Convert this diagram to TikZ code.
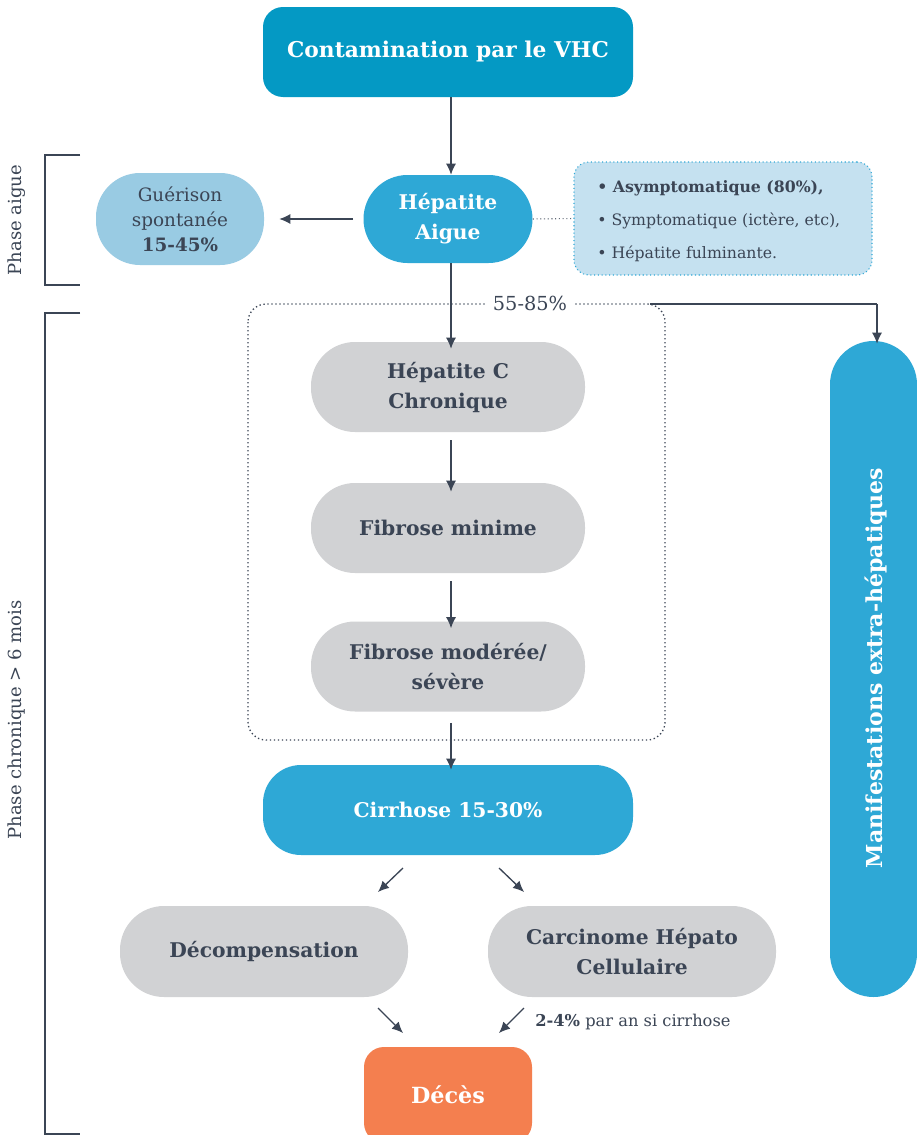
\documentclass[tikz,border=0pt]{standalone}
\usepackage{fontspec}
\setmainfont{DejaVu Serif}
\usetikzlibrary{arrows.meta}
\definecolor{txt}{HTML}{3B4555}
\definecolor{cTop}{HTML}{0499C4}
\definecolor{cBlue}{HTML}{2EA8D6}
\definecolor{cLight}{HTML}{99CBE3}
\definecolor{cInfo}{HTML}{C5E1F0}
\definecolor{cGray}{HTML}{D1D2D4}
\definecolor{cOrange}{HTML}{F47F4F}
\newcommand\pxu[1]{#1*0.75pt}
\begin{document}
\begin{tikzpicture}[x=0.75pt,y=-0.75pt,
  box/.style={align=center, inner sep=0pt, text=txt},
  pill/.style={box, rounded corners=\pxu{44}, minimum height=\pxu{90}},
  bigfont/.style={font=\bfseries\fontsize{16.3}{20}\selectfont},
  midfont/.style={font=\bfseries\fontsize{15.2}{22.5}\selectfont},
  arr/.style={draw=txt, line width=1pt, -{Latex[length=\pxu{11},width=\pxu{10}]}},
  brk/.style={draw=txt, line width=2.2pt},
  sidelbl/.style={text=txt, rotate=90, font=\fontsize{13.5}{15}\selectfont},
]
\clip (0,0) rectangle (917,1135);
\fill[white] (0,0) rectangle (917,1135);

% brackets
\draw[brk] (80,155) -- (45,155) -- (45,285) -- (80,285);
\node[sidelbl] (lblA) at (17,220) {Phase aigue};
\draw[brk] (80,313) -- (45,313) -- (45,1134) -- (80,1134);
\node[sidelbl] (lblC) at (17,720) {Phase chronique > 6 mois};

% dotted box
\draw[txt, dotted, line width=1pt, rounded corners=\pxu{18}] (248,304) rectangle (665,740);
\node[text=txt, fill=white, inner xsep=5pt, inner ysep=1pt, font=\fontsize{14.5}{16}\selectfont] (pct) at (530,303) {55-85\%};
\coordinate (dbr) at (650,304);

% nodes
\node[box, fill=cTop, text=white, bigfont, rounded corners=\pxu{20}, minimum width=\pxu{370}, minimum height=\pxu{90}] (vhc) at (448,52) {Contamination par le VHC};
\node[pill, fill=cBlue, text=white, midfont, minimum width=\pxu{169}, minimum height=\pxu{88}] (ha) at (448,219) {Hépatite\\Aigue};
\node[pill, fill=cLight, font=\fontsize{13.8}{18.75}\selectfont, minimum width=\pxu{168}, minimum height=\pxu{92}] (gs) at (180,219) {Guérison\\spontanée\\\textbf{15-45\%}};
\node[box, fill=cInfo, draw=cBlue, dotted, line width=0.8pt, rounded corners=\pxu{15}, minimum width=\pxu{298}, minimum height=\pxu{113}] (info) at (723,218.5) {};
\node[text=txt, anchor=west, align=left, inner sep=0pt, font=\fontsize{11.8}{24.75}\selectfont] (infot) at (597,221) {\textbf{• Asymptomatique (80\%),}\\• Symptomatique (ictère, etc),\\• Hépatite fulminante.};

\node[pill, fill=cGray, midfont, minimum width=\pxu{274}] (hcc) at (448,387) {Hépatite C\\Chronique};
\node[pill, fill=cGray, midfont, minimum width=\pxu{274}] (fmin) at (448,528) {Fibrose minime};
\node[pill, fill=cGray, midfont, minimum width=\pxu{274}] (fmod) at (448,666.5) {Fibrose modérée/\\sévère};
\node[box, fill=cBlue, text=white, midfont, rounded corners=\pxu{38}, minimum width=\pxu{370}, minimum height=\pxu{90}] (cir) at (448,810) {Cirrhose 15-30\%};
\node[pill, fill=cGray, midfont, minimum width=\pxu{288}, minimum height=\pxu{91}] (dec) at (264,951.5) {Décompensation};
\node[pill, fill=cGray, midfont, minimum width=\pxu{288}, minimum height=\pxu{91}] (chc) at (632,951.5) {Carcinome Hépato\\Cellulaire};
\node[box, fill=cOrange, text=white, font=\bfseries\fontsize{16.7}{20}\selectfont, rounded corners=\pxu{20}, minimum width=\pxu{168}, minimum height=\pxu{96}] (deces) at (448,1095) {Décès};
\node[box, fill=cBlue, rounded corners=\pxu{43.5}, minimum width=\pxu{87}, minimum height=\pxu{656}] (mani) at (873.5,669) {};
\node[text=white, rotate=90, font=\bfseries\fontsize{16.5}{20}\selectfont, inner sep=0pt] (manit) at (876,668) {Manifestations extra-hépatiques};

\node[text=txt, anchor=west, inner sep=0pt, font=\fontsize{12.2}{14}\selectfont] (pan) at (535,1022) {\textbf{2-4\%} par an si cirrhose};

% connectors
\coordinate (axis) at (451,0);
\draw[arr] (vhc.south -| axis) -- (ha.north -| axis);
\draw[arr] ([xshift=\pxu{-10}]ha.west) -- ([xshift=\pxu{15}]gs.east);
\draw[txt!80, dotted, line width=0.8pt] (ha.east) -- (info.west);
\draw[arr] (ha.south -| axis) -- ([yshift=\pxu{-7}]hcc.north -| axis);
\draw[arr] ([yshift=\pxu{-8}]hcc.south -| axis) -- ([yshift=\pxu{-9}]fmin.north -| axis);
\draw[arr] ([yshift=\pxu{-8}]fmin.south -| axis) -- ([yshift=\pxu{-7}]fmod.north -| axis);
\draw[arr] ([yshift=\pxu{-11}]fmod.south -| axis) -- ([yshift=\pxu{-5}]cir.north -| axis);
\draw[txt, line width=1pt] (dbr) -- (877,304);
\draw[arr] (877,304) -- ([yshift=\pxu{-3}]mani.north -| 877,0);

\coordinate (c1s) at (403,868); \coordinate (c1e) at (378,892);
\coordinate (c2s) at (499,868); \coordinate (c2e) at (524,892);
\coordinate (d1s) at (378,1008); \coordinate (d1e) at (403,1033);
\coordinate (d2s) at (524,1008); \coordinate (d2e) at (499,1033);
\draw[arr] (c1s) -- (c1e);
\draw[arr] (c2s) -- (c2e);
\draw[arr] (d1s) -- (d1e);
\draw[arr] (d2s) -- (d2e);
\end{tikzpicture}
\end{document}
